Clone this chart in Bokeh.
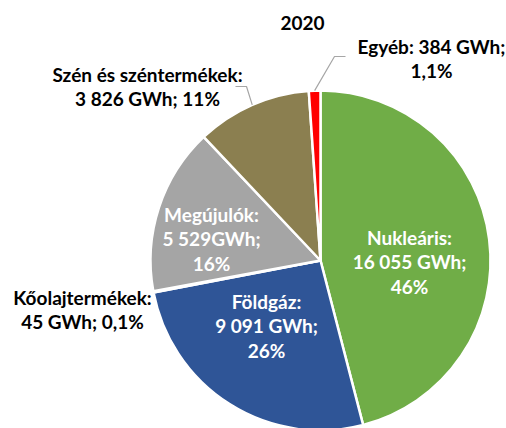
import math
from bokeh.plotting import figure
from bokeh.models import Range1d
from bokeh.core.properties import value
from bokeh.embed import file_html
from bokeh.resources import INLINE

# ---- data ----
title = "2020"
categories = ["Nukleáris", "Földgáz", "Kőolajtermékek", "Megújulók", "Szén és széntermékek", "Egyéb"]
gwh = [16055, 9091, 45, 5529, 3826, 384]
label_lines = [
    ["Nukleáris:", "16 055 GWh;", "46%"],
    ["Földgáz:", "9 091 GWh;", "26%"],
    ["Kőolajtermékek:", "45 GWh; 0,1%"],
    ["Megújulók:", "5 529GWh;", "16%"],
    ["Szén és széntermékek:", "3 826 GWh; 11%"],
    ["Egyéb: 384 GWh;", "1,1%"],
]

# ---- style / layout ----
colors = ["#70AD47", "#2F5597", "#7F7F7F", "#A5A5A5", "#8B7F50", "#FF0000"]
label_colors = ["white", "white", "black", "white", "black", "black"]
# label block centres in page pixels
label_pos = [(409, 261), (266, 325), (82, 309), (211, 238), (147, 86), (431, 58)]
# leader: (start of horizontal stub x, y, stub end x) for outside labels, None otherwise
leaders = [None, None, None, None, (235, 86, 246), (345, 56, 334)]
font = "Lato"
fsize = 19
line_gap = 24.5

W, H = 506, 428
cx, cy, R = 320, 260, 170

def up(y):
    return H - y

p = figure(width=W, height=H, output_backend="svg", toolbar_location=None,
           x_range=Range1d(0, W), y_range=Range1d(0, H),
           min_border=0, outline_line_color=None)
p.axis.visible = False
p.grid.visible = False
p.background_fill_color = "white"

total = sum(gwh)
starts, ends, mids = [], [], []
cum = 0.0
for v in gwh:
    a0 = cum / total * 2 * math.pi
    cum += v
    a1 = cum / total * 2 * math.pi
    # clockwise from 12 o'clock -> bokeh angles (anticlockwise from +x)
    starts.append(math.pi / 2 - a1)
    ends.append(math.pi / 2 - a0)
    mids.append((a0 + a1) / 2)

p.wedge(x=cx, y=up(cy), radius=R, start_angle=starts, end_angle=ends,
        fill_color=colors, line_color="white", line_width=2.5)

# leaders
for i, ld in enumerate(leaders):
    if ld is None:
        continue
    x0, y0, x1 = ld
    ex = cx + R * math.sin(mids[i])
    ey = cy - R * math.cos(mids[i])
    p.line([x0, x1, ex], [up(y0), up(y0), up(ey)], line_color="#A6A6A6", line_width=1.2)

# labels
for i, lines in enumerate(label_lines):
    lx, ly = label_pos[i]
    n = len(lines)
    for k, t in enumerate(lines):
        yy = ly + (k - (n - 1) / 2) * line_gap
        p.text(x=[lx], y=[up(yy)], text=[t], text_align="center", text_baseline="middle",
               text_font=value(font), text_font_style="bold", text_font_size=f"{fsize}px",
               text_color=label_colors[i])

p.text(x=[302], y=[up(22)], text=[title], text_align="center", text_baseline="middle",
       text_font=value(font), text_font_style="bold", text_font_size=f"{fsize}px",
       text_color="black")

open("out.html", "w").write(file_html(p, INLINE))
